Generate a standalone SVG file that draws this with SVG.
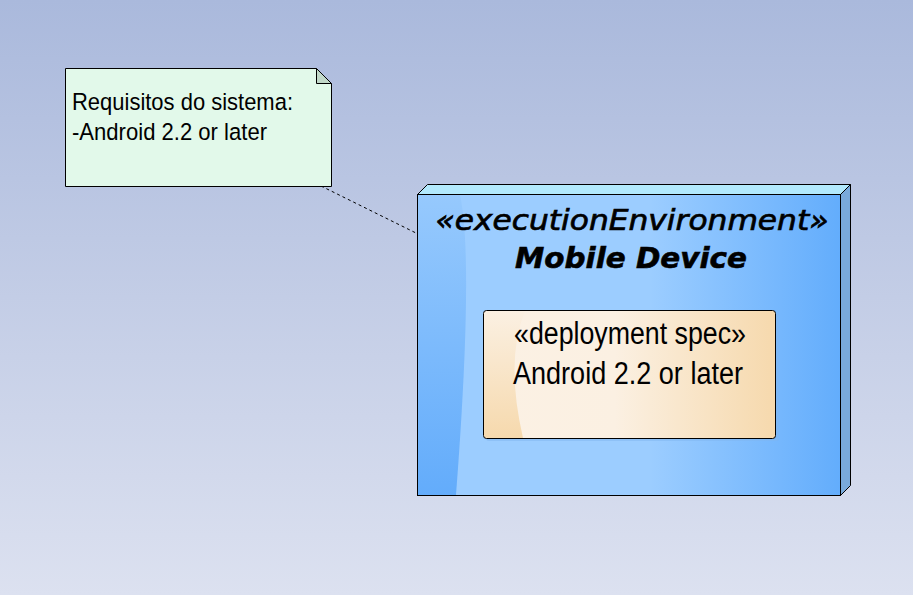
<svg xmlns="http://www.w3.org/2000/svg" width="913" height="595" viewBox="0 0 913 595">
<defs>
<linearGradient id="bg" x1="0" y1="0" x2="0" y2="1">
<stop offset="0" stop-color="#aab9dc"/>
<stop offset="1" stop-color="#dce1f0"/>
</linearGradient>
<linearGradient id="front" x1="0" y1="0" x2="1" y2="0">
<stop offset="0" stop-color="#9ccdff"/>
<stop offset="0.55" stop-color="#9ccdff"/>
<stop offset="1" stop-color="#63adfc"/>
</linearGradient>
<linearGradient id="strip" x1="0" y1="0" x2="0" y2="1">
<stop offset="0" stop-color="#96c9fd"/>
<stop offset="1" stop-color="#63acfb"/>
</linearGradient>
<linearGradient id="spec" x1="0" y1="0" x2="1" y2="0">
<stop offset="0" stop-color="#fbf1e4"/>
<stop offset="0.45" stop-color="#fbf0e2"/>
<stop offset="1" stop-color="#f6d9ad"/>
</linearGradient>
<linearGradient id="specl" x1="0" y1="0" x2="0" y2="1">
<stop offset="0" stop-color="#fbf0e2"/>
<stop offset="1" stop-color="#f6d9ad"/>
</linearGradient>
</defs>
<style>
.edge{fill:none;stroke:#000;stroke-width:1}
.note{fill:#e2f9ea;stroke:#000;stroke-width:1}
.t{font-family:"Liberation Sans",Arial,sans-serif;fill:#000}
.h{font-family:"DejaVu Sans",Verdana,sans-serif;font-style:italic;fill:#000;stroke:#000}
</style>
<rect width="913" height="595" fill="url(#bg)"/>
<g id="connectors">
<line x1="321" y1="186" x2="418" y2="234" stroke="#000" stroke-width="1" stroke-dasharray="3,3"/>
</g>
<g id="note">
<path class="note" d="M65.5,68.5 H316.5 L331.5,83.5 V186.5 H65.5 Z"/>
<path d="M316.5,68.5 V83.5 H331.5 Z" fill="#c2d9c9" stroke="#000" stroke-width="1"/>
<text class="t" x="72" y="110" font-size="24.5" textLength="221" lengthAdjust="spacingAndGlyphs">Requisitos do sistema:</text>
<text class="t" x="72" y="140" font-size="24.5" textLength="195" lengthAdjust="spacingAndGlyphs">-Android 2.2 or later</text>
</g>
<g id="mobileDevice">
<path d="M417.5,194.5 L427.5,184.5 H850.5 L840.5,194.5 Z" fill="#b2e9fd" stroke="#000" stroke-width="1"/>
<path d="M840.5,194.5 L850.5,184.5 V485.5 L840.5,495.5 Z" fill="#79aadb" stroke="#000" stroke-width="1"/>
<rect x="417.5" y="194.5" width="423" height="301" fill="url(#front)"/>
<path d="M418,195 H460 Q474,260 456,495 H418 Z" fill="url(#strip)"/>
<rect x="417.5" y="194.5" width="423" height="301" class="edge"/>
<text class="h" x="632" y="230" font-size="28" stroke-width="0.7" text-anchor="middle" textLength="393" lengthAdjust="spacingAndGlyphs">«executionEnvironment»</text>
<text class="h" x="631" y="268" font-size="29" font-weight="bold" stroke-width="0.6" text-anchor="middle" textLength="232" lengthAdjust="spacingAndGlyphs">Mobile Device</text>
<g id="deploymentSpec">
<rect x="486" y="313" width="293" height="128" rx="3" fill="#7fb6ef" opacity="0.5"/>
<rect x="483.5" y="310.5" width="292" height="128" rx="3" fill="url(#spec)"/>
<path d="M484,312 Q484,311 486,311 H525 Q505,360 523,438 H486 Q484,438 484,436 Z" fill="url(#specl)"/>
<rect x="483.5" y="310.5" width="292" height="128" rx="3" class="edge"/>
<text class="t" x="514" y="344" font-size="31" textLength="232" lengthAdjust="spacingAndGlyphs">«deployment spec»</text>
<text class="t" x="513" y="384" font-size="31" textLength="230" lengthAdjust="spacingAndGlyphs">Android 2.2 or later</text>
</g>
</g>
</svg>
